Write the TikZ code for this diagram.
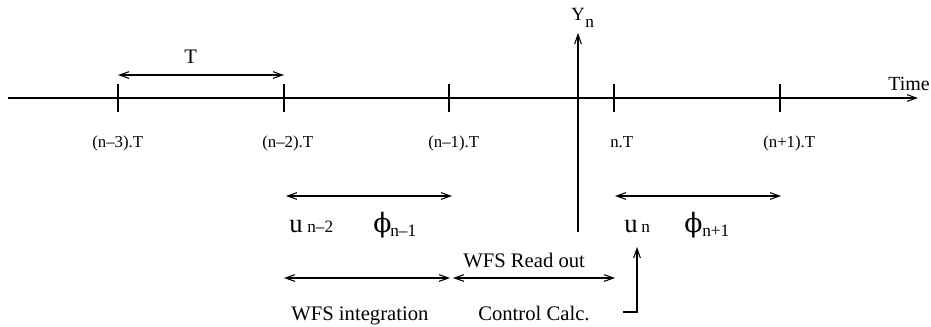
\documentclass[tikz,border=0pt]{standalone}
\usepackage{fontspec}
\setmainfont{Liberation Serif}
\newfontfamily\symbfont{DejaVu Serif}
\usetikzlibrary{arrows.meta, positioning}

\begin{document}
\begin{tikzpicture}[x=0.75pt, y=-0.75pt,
  line/.style={line width=0.8pt},
  arrow/.style={line, -{Straight Barb[length=7pt, width=5pt]}},
  darrow/.style={line, {Straight Barb[length=7pt, width=5pt]}-{Straight Barb[length=7pt, width=5pt]}},
  lbl/.style={font=\fontsize{12.6}{14}\selectfont, anchor=base west, inner sep=0pt},
  txt/.style={font=\fontsize{15.5}{18}\selectfont, anchor=base west, inner sep=0pt},
  big/.style={font=\fontsize{20}{22}\selectfont, anchor=base west, inner sep=0pt},
  sub/.style={font=\fontsize{13}{15}\selectfont, anchor=base west, inner sep=0pt}
]
\useasboundingbox (0,0) rectangle (931,326);

% Time axis
\coordinate (start) at (8,98);
\coordinate (stop) at (918,98);
\draw[arrow] (start) -- (stop);
\node[txt, font=\fontsize{15}{18}\selectfont] (time) at (888,90) {Time};

% Ticks at the sampling instants
\foreach \name/\x in {nm3/118, nm2/284, nm1/449, n0/614, np1/780}
{
  \coordinate (\name) at (\x,98);
  \draw[line] ([yshift=10.5pt]\name) -- ([yshift=-10.5pt]\name);
}
\node[lbl] (lnm3) at (92,147)  {(n--3).T};
\node[lbl] (lnm2) at (262,147) {(n--2).T};
\node[lbl] (lnm1) at (428,147) {(n--1).T};
\node[lbl] (ln0)  at (610,147) {n.T};
\node[lbl] (lnp1) at (763,147) {(n+1).T};

% Y_n axis
\coordinate (ybot) at (578,232);
\coordinate (ytop) at (578,33);
\draw[arrow] (ybot) -- (ytop);
\node[font=\fontsize{14}{16}\selectfont, anchor=base west, inner sep=0pt] (ylab) at (571,20) {Y};
\node[sub] (ysub) at (585,27) {n};

% Period T
\coordinate (Ta) at (118,75);
\coordinate (Tb) at (284,75);
\draw[darrow] (Ta) -- (Tb);
\node[txt] (T) at (184,63) {T};

% First row of intervals
\coordinate (r1a) at (286,196);
\coordinate (r1b) at (452,196);
\coordinate (r1c) at (615,196);
\coordinate (r1d) at (781,196);
\draw[darrow] (r1a) -- (r1b);
\draw[darrow] (r1c) -- (r1d);

\node[big] (u2) at (289,232) {u};
\node[sub] (u2s) at (307,232) {n--2};
\node[big, font=\fontsize{20}{22}\symbfont] (p1) at (373,232) {ϕ};
\node[sub] (p1s) at (390,236) {n--1};
\node[big] (u0) at (624,232) {u};
\node[sub] (u0s) at (641,232) {n};
\node[big, font=\fontsize{20}{22}\symbfont] (p2) at (684,232) {ϕ};
\node[sub] (p2s) at (702,236) {n+1};

% Second row: integration and read out
\coordinate (r2a) at (284,278);
\coordinate (r2b) at (450,278);
\coordinate (r2c) at (453,278);
\coordinate (r2d) at (615,278);
\draw[darrow] (r2a) -- (r2b);
\draw[darrow] (r2c) -- (r2d);
\node[txt] (ro) at (463,267) {WFS Read out};
\node[txt] (wi) at (291,320) {WFS integration};
\node[txt] (cc) at (478,320) {Control Calc.};

% Control calculation feeds u_n
\coordinate (ca) at (623,312);
\coordinate (cb) at (637,312);
\coordinate (cc2) at (637,247);
\draw[arrow] (ca) -- (cb) -- (cc2);

\end{tikzpicture}
\end{document}
